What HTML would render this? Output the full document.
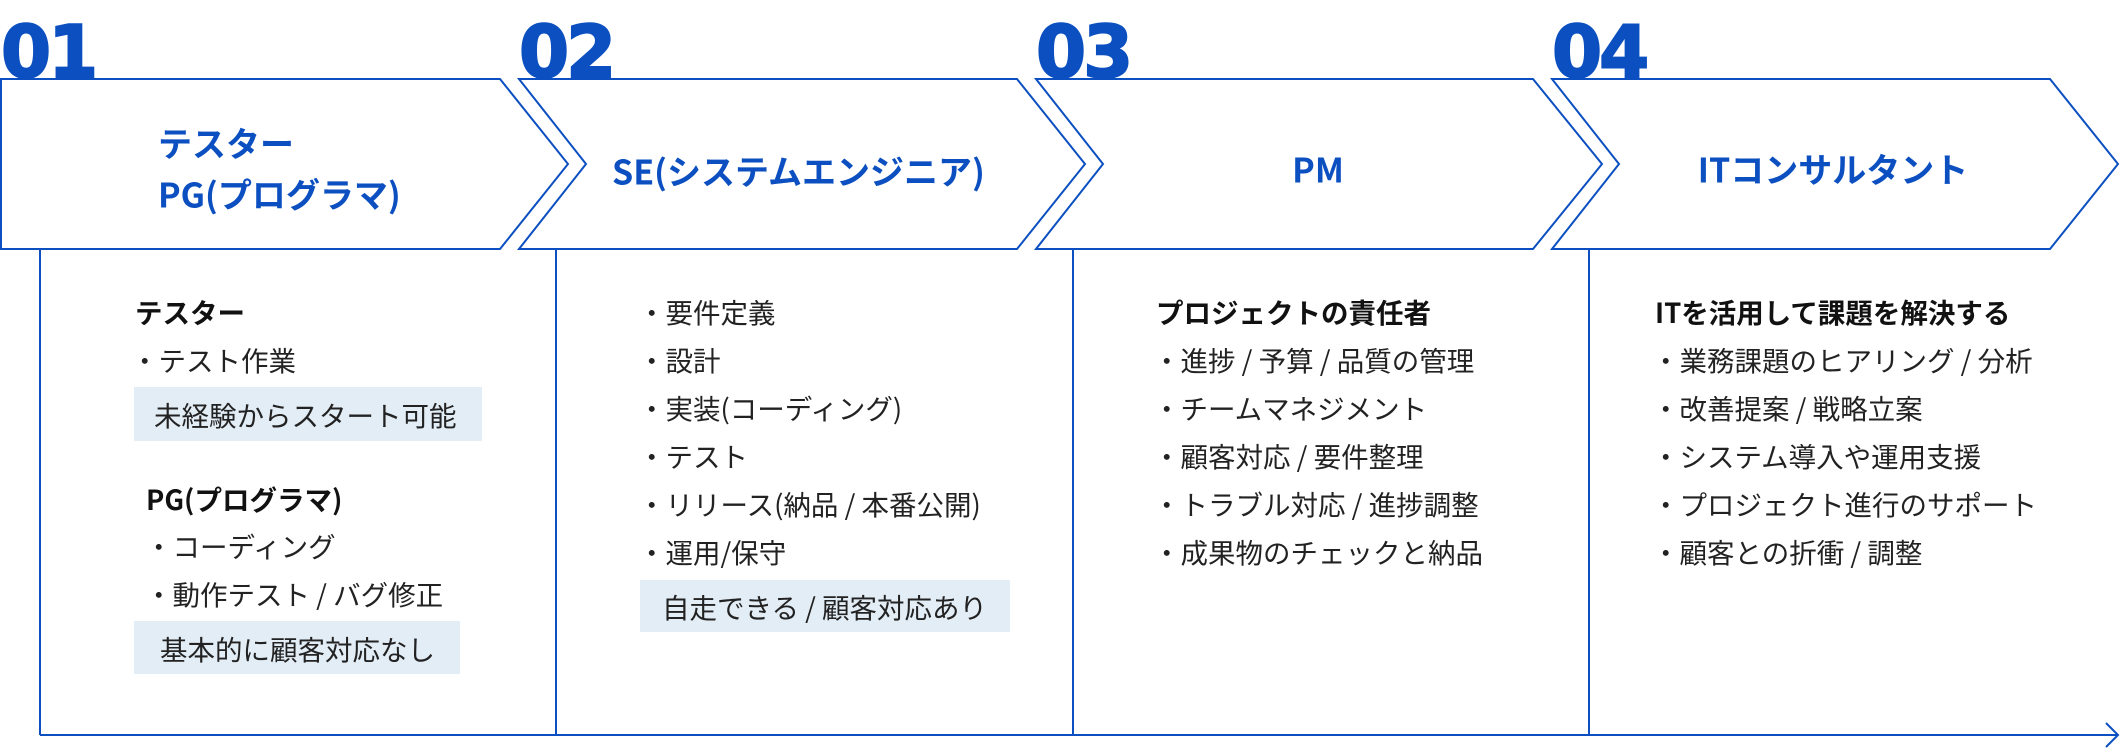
<!DOCTYPE html>
<html><head><meta charset="utf-8"><style>
html,body{margin:0;padding:0;background:#fff;}
svg{display:block;}
.num{font-family:"DejaVu Sans","Liberation Sans",sans-serif;font-weight:bold;font-size:72px;fill:#0b4fc0;stroke:#0b4fc0;stroke-width:2px;letter-spacing:-3px;}
.hd{font-family:"Noto Sans CJK JP","Liberation Sans",sans-serif;font-weight:bold;font-size:34px;fill:#0b4fc0;}
.t{font-family:"Noto Sans CJK JP","Liberation Sans",sans-serif;font-size:27.5px;fill:#222;}
.b{font-weight:bold;fill:#111;}
</style></head><body>
<svg width="2122" height="751" viewBox="0 0 2122 751" xmlns="http://www.w3.org/2000/svg">
<g fill="#fff" stroke="#0b4fc0" stroke-width="2">
<polygon points="1,79 500,79 568,164 500,249 1,249"/>
<polygon points="519,79 1017,79 1085,164 1017,249 519,249 586,164"/>
<polygon points="1036,79 1533,79 1602,164 1533,249 1036,249 1103,164"/>
<polygon points="1552,79 2050,79 2118,164 2050,249 1552,249 1619,164"/>
</g>
<g stroke="#0b4fc0" stroke-width="2" fill="none">
<line x1="40" y1="249" x2="40" y2="735"/>
<line x1="556" y1="249" x2="556" y2="735"/>
<line x1="1073" y1="249" x2="1073" y2="735"/>
<line x1="1589" y1="249" x2="1589" y2="735"/>
<line x1="40" y1="735" x2="2118" y2="735"/>
<polyline points="2106,723 2118,735 2106,747"/>
</g>
<text class="num" x="1" y="77">01</text>
<text class="num" x="519" y="77">02</text>
<text class="num" x="1036" y="77">03</text>
<text class="num" x="1552" y="77">04</text>

<g dominant-baseline="central">
<text class="hd" x="158" y="142">テスター</text>
<text class="hd" x="158" y="193">PG(プログラマ)</text>
<text class="hd" x="612" y="170">SE(システムエンジニア)</text>
<text class="hd" x="1318" y="168" text-anchor="middle">PM</text>
<text class="hd" x="1833" y="168" text-anchor="middle">ITコンサルタント</text>

<rect x="134" y="387" width="348" height="54" fill="#e3edf6"/>
<rect x="134" y="621" width="326" height="53" fill="#e3edf6"/>
<rect x="640" y="580" width="370" height="52" fill="#e3edf6"/>

<text class="t b" x="135" y="311">テスター</text>
<text class="t" x="131" y="359">・テスト作業</text>
<text class="t" x="154" y="414">未経験からスタート可能</text>
<text class="t b" x="146" y="498">PG(プログラマ)</text>
<text class="t" x="145" y="545">・コーディング</text>
<text class="t" x="145" y="593">・動作テスト / バグ修正</text>
<text class="t" x="160" y="648">基本的に顧客対応なし</text>

<text class="t" x="638" y="311">・要件定義</text>
<text class="t" x="638" y="359">・設計</text>
<text class="t" x="638" y="407">・実装(コーディング)</text>
<text class="t" x="638" y="455">・テスト</text>
<text class="t" x="638" y="503">・リリース(納品 / 本番公開)</text>
<text class="t" x="638" y="551">・運用/保守</text>
<text class="t" x="662" y="606">自走できる / 顧客対応あり</text>

<text class="t b" x="1156" y="311">プロジェクトの責任者</text>
<text class="t" x="1153" y="359">・進捗 / 予算 / 品質の管理</text>
<text class="t" x="1153" y="407">・チームマネジメント</text>
<text class="t" x="1153" y="455">・顧客対応 / 要件整理</text>
<text class="t" x="1153" y="503">・トラブル対応 / 進捗調整</text>
<text class="t" x="1153" y="551">・成果物のチェックと納品</text>

<text class="t b" x="1655" y="311">ITを活用して課題を解決する</text>
<text class="t" x="1652" y="359">・業務課題のヒアリング / 分析</text>
<text class="t" x="1652" y="407">・改善提案 / 戦略立案</text>
<text class="t" x="1652" y="455">・システム導入や運用支援</text>
<text class="t" x="1652" y="503">・プロジェクト進行のサポート</text>
<text class="t" x="1652" y="551">・顧客との折衝 / 調整</text>
</g>
</svg>
</body></html>
